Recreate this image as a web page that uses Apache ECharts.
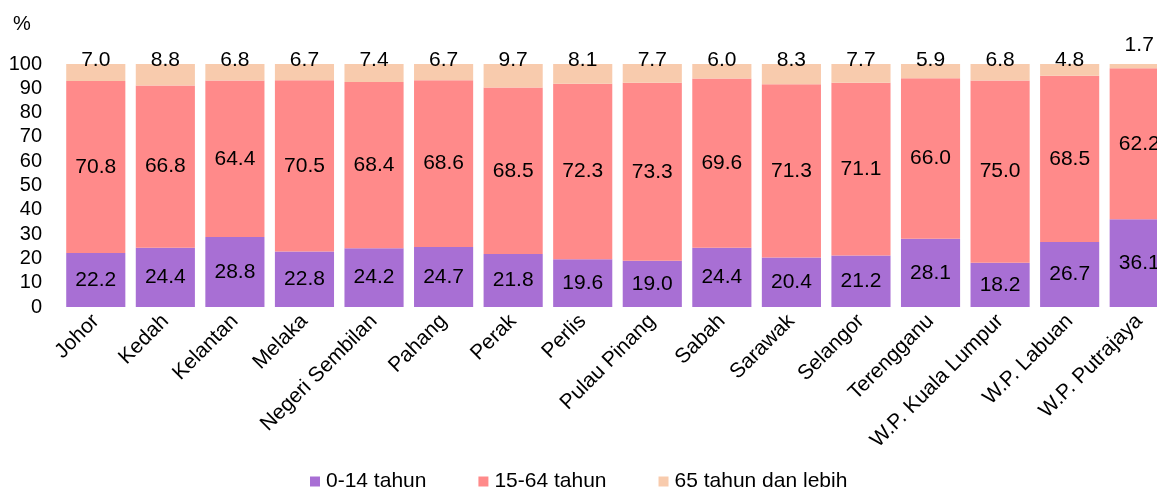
<!DOCTYPE html>
<html>
<head>
<meta charset="utf-8">
<script src="https://cdn.jsdelivr.net/npm/echarts@6/dist/echarts.min.js"></script>
<style>
  html, body { margin: 0; padding: 0; background: #fff; }
  #chart { width: 1157px; height: 491px; }
</style>
</head>
<body>
<div id="chart"></div>
<script>
const states = ['Johor', 'Kedah', 'Kelantan', 'Melaka', 'Negeri Sembilan', 'Pahang', 'Perak', 'Perlis',
  'Pulau Pinang', 'Sabah', 'Sarawak', 'Selangor', 'Terengganu', 'W.P. Kuala Lumpur', 'W.P. Labuan', 'W.P. Putrajaya'];
const age0to14 = [22.2, 24.4, 28.8, 22.8, 24.2, 24.7, 21.8, 19.6, 19.0, 24.4, 20.4, 21.2, 28.1, 18.2, 26.7, 36.1];
const age15to64 = [70.8, 66.8, 64.4, 70.5, 68.4, 68.6, 68.5, 72.3, 73.3, 69.6, 71.3, 71.1, 66.0, 75.0, 68.5, 62.2];
const age65plus = [7.0, 8.8, 6.8, 6.7, 7.4, 6.7, 9.7, 8.1, 7.7, 6.0, 8.3, 7.7, 5.9, 6.8, 4.8, 1.7];
const yTicks = [0, 10, 20, 30, 40, 50, 60, 70, 80, 90, 100];

const font = 'Liberation Sans, Arial, sans-serif';
let myChart = echarts.init(document.getElementById('chart'));

const fmt = p => p.value.toFixed(1);

let option = {
  animation: false,
  textStyle: { fontFamily: font },
  title: {
    text: '%',
    left: 8,
    top: 9,
    textStyle: { fontSize: 20, fontWeight: 'normal', color: '#000', fontFamily: font }
  },
  legend: {
    bottom: -6,
    left: 305,
    icon: 'rect',
    itemWidth: 10,
    itemHeight: 10,
    itemGap: 52,
    textStyle: { fontSize: 21, color: '#000', fontFamily: font, padding: [0, 0, 0, 1] }
  },
  grid: { left: 61, top: 64, width: 1113, bottom: 184, outerBoundsMode: 'none' },
  xAxis: {
    type: 'category',
    data: states,
    axisLine: { show: false },
    axisTick: { show: false },
    axisLabel: { rotate: 45, fontSize: 21, color: '#000', margin: 11, interval: 0, fontFamily: font }
  },
  yAxis: {
    type: 'value',
    min: yTicks[0],
    max: yTicks[yTicks.length - 1],
    interval: 10,
    splitLine: { show: false },
    axisLine: { show: false },
    axisTick: { show: false },
    axisLabel: { fontSize: 20, color: '#000', margin: 19, fontFamily: font }
  },
  series: [
    {
      name: '0-14 tahun',
      type: 'bar',
      stack: 'total',
      barCategoryGap: '15%',
      data: age0to14,
      itemStyle: { color: '#a86fd4' },
      label: { show: true, position: 'inside', fontSize: 21, color: '#000', formatter: fmt }
    },
    {
      name: '15-64 tahun',
      type: 'bar',
      stack: 'total',
      data: age15to64,
      itemStyle: { color: '#ff8a8a' },
      label: { show: true, position: 'inside', fontSize: 21, color: '#000', formatter: fmt }
    },
    {
      name: '65 tahun dan lebih',
      type: 'bar',
      stack: 'total',
      data: age65plus.map((v, i) => i === states.length - 1
        ? { value: v, label: { distance: 8 } }
        : v),
      itemStyle: { color: '#f8cbad' },
      label: { show: true, position: 'top', distance: -7, fontSize: 21, color: '#000', formatter: fmt }
    }
  ]
};

option && myChart.setOption(option);
</script>
</body>
</html>
